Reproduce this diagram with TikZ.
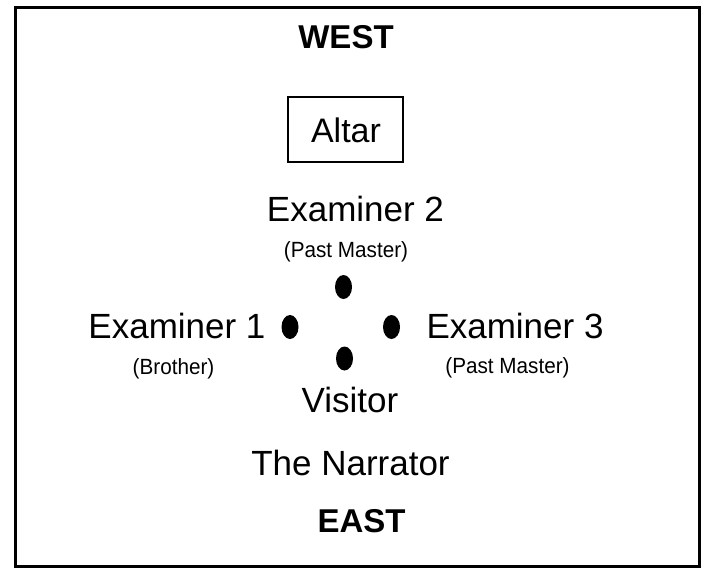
\documentclass[tikz,border=0pt]{standalone}
\usepackage{fontspec}
\setmainfont{Liberation Sans}
\newfontfamily\labelsmall[FakeStretch=0.94]{Liberation Sans}
\usetikzlibrary{shapes.geometric}
\tikzset{
  lbl/.style={anchor=base, inner sep=0pt, font=\fontsize{35}{40}\selectfont},
  sublbl/.style={anchor=base, inner sep=0pt, font=\labelsmall\fontsize{22}{26}\selectfont},
  dirlbl/.style={anchor=base, inner sep=0pt, font=\bfseries\fontsize{33}{38}\selectfont},
  dot/.style={ellipse, fill=black, draw=none, minimum width=17pt, minimum height=24pt, inner sep=0pt},
  frame/.style={draw=black, line width=3.5pt},
  altarbox/.style={draw=black, line width=2pt, minimum width=115pt, minimum height=65pt, inner sep=0pt}
}
\begin{document}
\begin{tikzpicture}[x=1pt, y=-1pt]
\useasboundingbox (0,0) rectangle (708,569);
\fill[white] (0,0) rectangle (708,569);
\draw[frame] (15.5,7.5) rectangle (699.5,566.5);

\node[dirlbl] (west) at (346,49) {WEST};
\node[altarbox] (altarbox) at (345.5,129.5) {};
\node[lbl, font=\fontsize{34}{40}\selectfont] (altar) at (346,143) {Altar};

\node[lbl] (ex2) at (355.5,222) {Examiner 2};
\node[sublbl] (pm2) at (346,257) {(Past Master)};

\node[lbl] (ex1) at (177,338) {Examiner 1};
\node[sublbl] (bro) at (173.5,374) {(Brother)};

\node[lbl] (ex3) at (515,338) {Examiner 3};
\node[sublbl] (pm3) at (507.5,373) {(Past Master)};

\node[dot] (dtop) at (343.5,287) {};
\node[dot] (dleft) at (290,327) {};
\node[dot] (dright) at (391.5,327) {};
\node[dot] (dbottom) at (344.5,358.5) {};

\node[lbl] (visitor) at (350,412) {Visitor};
\node[lbl] (narrator) at (350.5,475) {The Narrator};
\node[dirlbl] (east) at (361.5,532) {EAST};
\end{tikzpicture}
\end{document}
